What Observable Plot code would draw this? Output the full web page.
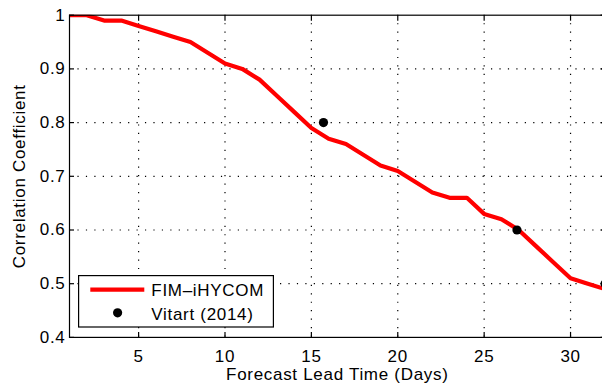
<!DOCTYPE html>
<html>
<head>
<meta charset="utf-8">
<script src="https://cdn.jsdelivr.net/npm/d3@7"></script>
<script src="https://cdn.jsdelivr.net/npm/@observablehq/plot@0.6"></script>
<style>
  html, body { margin: 0; padding: 0; background: #fff; overflow: hidden; }
  #chart { position: relative; width: 602px; height: 389px; overflow: hidden;
           font-family: "Liberation Sans", Arial, Helvetica, sans-serif; }
  #chart svg text { letter-spacing: 0.7px; }
  #legend { position: absolute; left: 77.7px; top: 275.3px; }
</style>
</head>
<body>
<div id="chart"></div>
<script>
// Forecast lead time (days) and FIM-iHYCOM correlation coefficient
const days = [1, 2, 3, 4, 5, 6, 7, 8, 9, 10, 11, 12, 13, 14, 15, 16,
              17, 18, 19, 20, 21, 22, 23, 24, 25, 26, 27, 28, 29, 30, 31, 32];
const fimCorr = [1.00, 1.00, 0.99, 0.99, 0.98, 0.97, 0.96, 0.95, 0.93, 0.91, 0.90, 0.88, 0.85, 0.82, 0.79, 0.77,
                 0.76, 0.74, 0.72, 0.71, 0.69, 0.67, 0.66, 0.66, 0.63, 0.62, 0.60, 0.57, 0.54, 0.51, 0.50, 0.49];

// Reference scores from Vitart (2014)
const vitartDays = [15.7, 26.9, 32];
const vitartCorr = [0.80, 0.60, 0.50];

const xTicks = [5, 10, 15, 20, 25, 30];
const yTicks = [0.4, 0.5, 0.6, 0.7, 0.8, 0.9, 1];
const xLabel = "Forecast Lead Time (Days)";
const yLabel = "Correlation Coefficient";
const seriesNames = ["FIM\u2013iHYCOM", "Vitart (2014)"];

const fim = days.map((d, i) => ({day: d, r: fimCorr[i]}));
const vitart = vitartDays.map((d, i) => ({day: d, r: vitartCorr[i]}));

const FONT = 17;
const TICK = 5;
const dotted = () => ({stroke: "#000", strokeOpacity: 1, strokeWidth: 1.2, strokeDasharray: "1.2,7.24"});

const chart = Plot.plot({
  width: 602,
  height: 389,
  marginLeft: 69,
  marginRight: -2.6,
  marginTop: 14.7,
  marginBottom: 52.1,
  style: {fontFamily: '"Liberation Sans", Arial, Helvetica, sans-serif', fontSize: FONT + "px", background: "white", color: "black"},
  x: {domain: [1, 32]},
  y: {domain: [0.4, 1]},
  marks: [
    // dotted grid
    Plot.ruleX(xTicks, {x: d => d, ...dotted()}),
    Plot.ruleY(yTicks.filter(v => v > 0.4 && v < 1), {y: d => d, ...dotted()}),
    Plot.line(fim, {x: "day", y: "r", stroke: "#ff0000", strokeWidth: 4.2, clip: true}),
    Plot.dot(vitart, {x: "day", y: "r", r: 4.6, fill: "black", stroke: "none"}),
    Plot.frame({stroke: "black", strokeWidth: 1.2}),
    // inward ticks on all four sides
    Plot.axisX(xTicks, {anchor: "bottom", fill: "none", tickSize: TICK, dy: -TICK, label: null, strokeWidth: 1.2}),
    Plot.axisX(xTicks, {anchor: "top", fill: "none", tickSize: TICK, dy: TICK, label: null, strokeWidth: 1.2}),
    Plot.axisY(yTicks, {anchor: "left", fill: "none", tickSize: TICK, dx: TICK, label: null, strokeWidth: 1.2}),
    Plot.axisY(yTicks, {anchor: "right", fill: "none", tickSize: TICK, dx: -TICK, label: null, strokeWidth: 1.2}),
    // tick labels
    Plot.axisX(xTicks, {anchor: "bottom", tickSize: 0, tickPadding: 12.5, label: null, fontSize: FONT}),
    Plot.axisY(yTicks, {anchor: "left", tickSize: 0, tickPadding: 4, label: null, fontSize: FONT, tickFormat: d => String(d)}),
    // axis titles
    Plot.text([xLabel], {text: d => d, frameAnchor: "bottom", textAnchor: "middle", lineAnchor: "bottom", dy: 43, fontSize: FONT}),
    Plot.text([yLabel], {text: d => d, frameAnchor: "left", textAnchor: "middle", lineAnchor: "bottom", rotate: -90, dx: -45, fontSize: FONT})
  ]
});

const host = document.getElementById("chart");
host.appendChild(chart);

// legend box in the lower-left corner of the axes
const lw = 196, lh = 53;
const legend = d3.select(host).append("svg")
  .attr("id", "legend")
  .attr("width", lw)
  .attr("height", lh)
  .style("font-family", '"Liberation Sans", Arial, Helvetica, sans-serif')
  .style("font-size", FONT + "px");
legend.append("rect")
  .attr("x", 0.6).attr("y", 0.6).attr("width", lw - 1.2).attr("height", lh - 1.6)
  .attr("fill", "white").attr("stroke", "black").attr("stroke-width", 1.2);
legend.append("line")
  .attr("x1", 12.3).attr("x2", 66.3).attr("y1", 14.7).attr("y2", 14.7)
  .attr("stroke", "#ff0000").attr("stroke-width", 4.2);
legend.append("circle")
  .attr("cx", 39.6).attr("cy", 37.8).attr("r", 4.6).attr("fill", "black");
legend.selectAll("text.entry")
  .data(seriesNames)
  .join("text")
  .attr("class", "entry")
  .attr("x", 73.3)
  .attr("y", (d, i) => 21.4 + i * 24)
  .style("letter-spacing", "0.7px")
  .text(d => d);
</script>
</body>
</html>
